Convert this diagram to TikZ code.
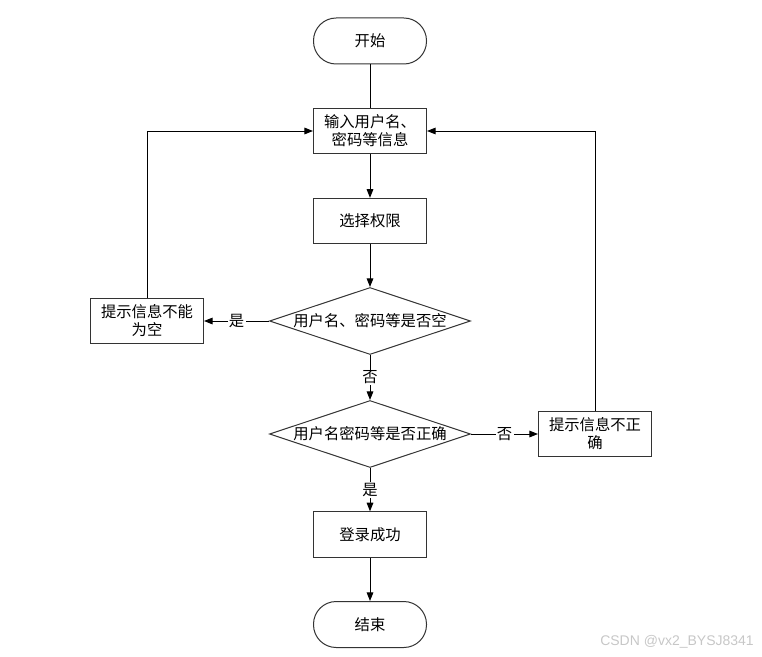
\documentclass[tikz,border=0pt]{standalone}
\usepackage{fontspec}
\setmainfont{Noto Sans CJK SC}
\newfontfamily\wmfont{Liberation Sans}
\usepackage{tikz}
\usetikzlibrary{shapes.geometric,arrows.meta,positioning}
\tikzstyle{terminal} = [draw=black!80,rectangle,rounded corners=17pt,minimum width=84.75pt,minimum height=34.5pt,inner sep=0pt]
\tikzstyle{stepbox} = [draw=black!80,rectangle,minimum width=84.75pt,minimum height=34pt,inner sep=0pt,align=center]
\tikzstyle{decision} = [draw=black!80,diamond,minimum width=150.75pt,minimum height=50.25pt,inner sep=0pt]
\tikzstyle{tag} = [fill=white,inner sep=1pt]
\tikzset{>={Triangle[length=6.5pt,width=5pt]}}

\begin{document}
\begin{tikzpicture}[x=0.75pt,y=-0.75pt,line width=0.75pt,font=\fontsize{11.5}{13.5}\selectfont]
    \useasboundingbox (0,0) rectangle (762,656);

    \node [terminal] (start) at (370,41) {开始};
    \node [stepbox] (in) at (370,131) {输入用户名、\\密码等信息};
    \node [stepbox] (sel) at (370,221) {选择权限};
    \node [decision,label=center:{用户名、密码等是否空}] (d1) at (370,321) {};
    \node [stepbox] (empty) at (147,321) {提示信息不能\\为空};
    \node [decision,label=center:{用户名密码等是否正确}] (d2) at (370,434) {};
    \node [stepbox] (wrong) at (595,434) {提示信息不正\\确};
    \node [stepbox] (ok) at (370,534.5) {登录成功};
    \node [terminal] (end) at (370,624.5) {结束};

    \draw (start) -- (in);
    \draw [->] (in) -- (sel);
    \draw [->] (sel) -- (d1);
    \draw [->] (d1) -- node [tag] {是} (empty);
    \draw [->] (empty) |- (in);
    \draw [->] (d1) -- node [tag] {否} (d2);
    \draw [->] (d2) -- node [tag] {否} (wrong);
    \draw [->] (wrong) |- (in);
    \draw [->] (d2) -- node [tag] {是} (ok);
    \draw [->] (ok) -- (end);

    \node [text=black!22,font=\wmfont\fontsize{10.5}{12}\selectfont] (mark) at (677,642) {CSDN @vx2\_BYSJ8341};
  \end{tikzpicture}
\end{document}
